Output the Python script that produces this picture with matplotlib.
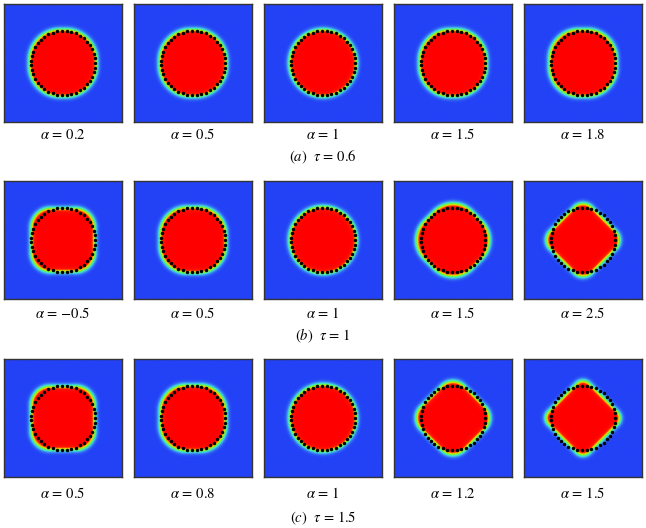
import numpy as np
import matplotlib
matplotlib.use("Agg")
import matplotlib.pyplot as plt
from matplotlib.colors import LinearSegmentedColormap

plt.rcParams['mathtext.fontset'] = 'stix'
plt.rcParams['font.family'] = ['Liberation Serif', 'DejaVu Serif']

# Data: per-row alpha labels and estimated interface shapes
row_captions = [r'$(a)\ \ \tau\,=\,0.6$', r'$(b)\ \ \tau\,=\,1$', r'$(c)\ \ \tau\,=\,1.5$']
alpha_labels = [
    ['0.2', '0.5', '1', '1.5', '1.8'],
    ['-0.5', '0.5', '1', '1.5', '2.5'],
    ['0.5', '0.8', '1', '1.2', '1.5'],
]
# orientation of the rounded square: 0 = axis-aligned (square), 45 = diamond
shape_rot = [
    [0, 0, 0, 0, 0],
    [0, 0, 0, 45, 45],
    [0, 0, 0, 45, 45],
]
# half-size of the square core
shape_core = [
    [0.05, 0.04, 0.0, 0.05, 0.07],
    [0.21, 0.10, 0.0, 0.12, 0.29],
    [0.22, 0.12, 0.0, 0.25, 0.34],
]
# rounding radius
shape_round = [
    [0.50, 0.51, 0.55, 0.50, 0.48],
    [0.31, 0.44, 0.55, 0.43, 0.19],
    [0.30, 0.42, 0.55, 0.25, 0.13],
]
circle_r = 0.545
n_dots = 43

cmap = LinearSegmentedColormap.from_list(
    'pf', [(0.0, '#2342f6'), (0.05, '#3c8cf0'), (0.12, '#40e0e0'),
           (0.2, '#50f090'), (0.3, '#70f030'), (0.42, '#c0f000'),
           (0.5, '#f8e800'), (0.6, '#ff8000'), (0.72, '#ff2000'),
           (1.0, '#ff0000')])

fig = plt.figure(figsize=(6.46, 5.28), dpi=100)
W, H = 646, 528
lefts = [4, 134, 264, 394, 524]
tops = [4, 181, 359]
size = 118
label_y = [135, 313, 494]
caption_y = [157, 336, 518]

n = 240
x = np.linspace(-1, 1, n)
X, Y = np.meshgrid(x, x)
wid = 0.045
th = np.linspace(0, 2 * np.pi, n_dots, endpoint=False)

for r in range(3):
    for c in range(5):
        ax = fig.add_axes([lefts[c] / W, 1 - (tops[r] + size) / H, size / W, size / H])
        a = np.deg2rad(shape_rot[r][c])
        U = X * np.cos(a) + Y * np.sin(a)
        V = -X * np.sin(a) + Y * np.cos(a)
        b = shape_core[r][c]
        r0 = shape_round[r][c]
        qx = np.abs(U) - b
        qy = np.abs(V) - b
        d = (np.hypot(np.maximum(qx, 0), np.maximum(qy, 0))
             + np.minimum(np.maximum(qx, qy), 0) - r0)
        phi = 0.5 * (1 - np.tanh(d / wid))
        ax.imshow(phi, cmap=cmap, vmin=0, vmax=1, extent=(-1, 1, -1, 1),
                  origin='lower', interpolation='bilinear')
        ax.plot(circle_r * np.cos(th), circle_r * np.sin(th), 'o', color='black',
                markersize=2.5, markeredgewidth=0)
        ax.set_xlim(-1, 1)
        ax.set_ylim(-1, 1)
        ax.set_xticks([])
        ax.set_yticks([])
        for s in ax.spines.values():
            s.set_color('#333333')
            s.set_linewidth(1.0)
        lab = alpha_labels[r][c]
        if lab.startswith('-'):
            lab = '{-}' + lab[1:]
        fig.text((lefts[c] + size / 2) / W, 1 - label_y[r] / H,
                 r'$\alpha\,=\,' + lab + '$', ha='center',
                 va='center', fontsize=10.5)
    fig.text(323 / W, 1 - caption_y[r] / H, row_captions[r], ha='center',
             va='center', fontsize=10.5)

fig.savefig('out.png', dpi=100)
